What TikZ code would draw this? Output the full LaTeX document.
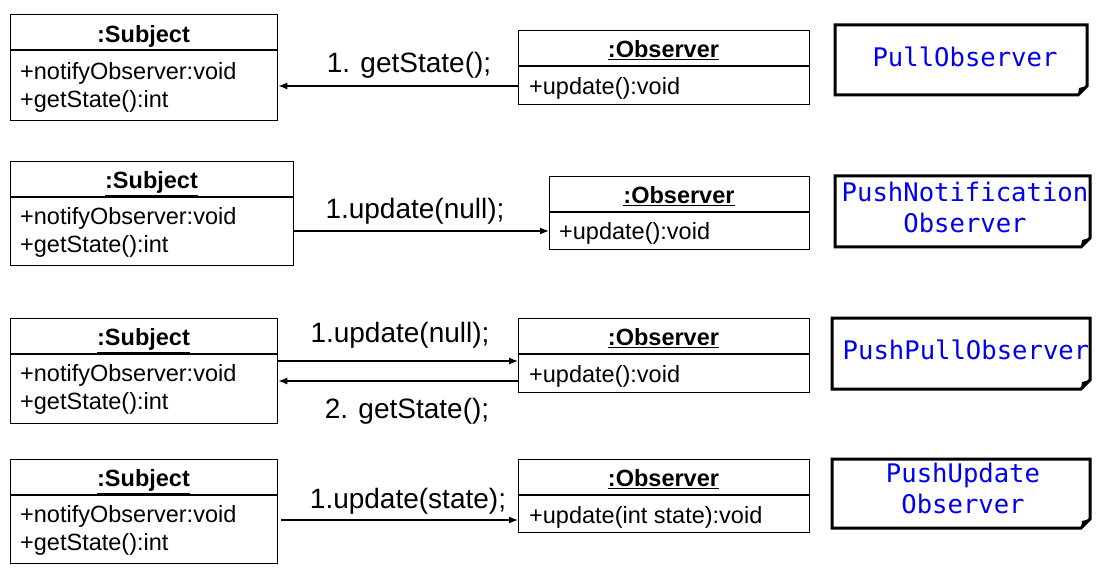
\documentclass[tikz,border=0pt]{standalone}
\usepackage{fontspec}
\setmainfont{Liberation Sans}
\newfontfamily\monof{DejaVu Sans Mono}
\usetikzlibrary{arrows.meta}
\definecolor{noteblue}{RGB}{0,0,240}
\newcommand\notebox[4]{%
  \draw[line width=3pt, line join=miter] (#1,#2) -- (#3,#2) -- (#3,#4-9) -- (#3-9,#4) -- (#1,#4) -- cycle;
  \fill (#3,#4-9) -- (#3-9,#4) -- (#3-8,#4-7) -- cycle;
}
\begin{document}
\begin{tikzpicture}[x=1pt,y=-1pt,
  umlbox/.style={draw, line width=1.3pt, anchor=north west, inner sep=0pt},
  divline/.style={line width=1.3pt},
  ttl/.style={font=\fontsize{23.5}{28}\selectfont\bfseries, text height=17pt, text depth=0pt, inner sep=0pt},
  attr/.style={font=\fontsize{23.5}{28}\selectfont, anchor=west, text height=17pt, text depth=0pt, inner sep=0pt},
  lbl/.style={font=\fontsize{28}{32}\selectfont, text height=20pt, text depth=0pt, inner sep=0pt},
  msg/.style={line width=1.3pt, -{Latex[length=9pt,width=7pt]}},
  notetxt/.style={font=\fontsize{25.6}{31}\selectfont\monof, text=noteblue, align=center, inner sep=0pt}
]
\useasboundingbox (0,0) rectangle (1101,572);

% ---------- Row 1 : Pull ----------
\node[umlbox, minimum width=267pt, minimum height=106pt] (s1) at (10,14) {};
\draw[divline] (s1.west |- 0,50) -- (s1.east |- 0,50);
\node[ttl] (s1t) at (143.5,34) {\underline{:Subject}};
\node[attr] (s1a) at (20,71) {+notifyObserver:void};
\node[attr] (s1b) at (20,99) {+getState():int};

\node[umlbox, minimum width=291pt, minimum height=74pt] (o1) at (518,30) {};
\draw[divline] (o1.west |- 0,66) -- (o1.east |- 0,66);
\node[ttl] (o1t) at (663.5,49) {\underline{:Observer}};
\node[attr] (o1a) at (529,86) {+update():void};

\draw[msg] (o1.west |- 0,86) -- (s1.east |- 0,86);
\node[lbl] (l1) at (409,63) {1. getState();};

\notebox{835}{25}{1087}{95}
\node[notetxt] (n1) at (965,57) {PullObserver};

% ---------- Row 2 : PushNotification ----------
\node[umlbox, minimum width=283pt, minimum height=104pt] (s2) at (10,161) {};
\draw[divline] (s2.west |- 0,197) -- (s2.east |- 0,197);
\node[ttl] (s2t) at (151.5,180) {\underline{:Subject}};
\node[attr] (s2a) at (20,216) {+notifyObserver:void};
\node[attr] (s2b) at (20,244) {+getState():int};

\node[umlbox, minimum width=260pt, minimum height=73pt] (o2) at (549,176) {};
\draw[divline] (o2.west |- 0,212) -- (o2.east |- 0,212);
\node[ttl] (o2t) at (679,195) {\underline{:Observer}};
\node[attr] (o2a) at (559,231) {+update():void};

\draw[msg] (s2.east |- 0,231) -- (o2.west |- 0,231);
\node[lbl] (l2) at (415,209) {1.update(null);};

\notebox{835}{176}{1090}{247}
\node[notetxt] (n2) at (965,207) {PushNotification\\Observer};

% ---------- Row 3 : PushPull ----------
\node[umlbox, minimum width=267pt, minimum height=105pt] (s3) at (10,318) {};
\draw[divline] (s3.west |- 0,354) -- (s3.east |- 0,354);
\node[ttl] (s3t) at (143.5,337) {\underline{:Subject}};
\node[attr] (s3a) at (20,373) {+notifyObserver:void};
\node[attr] (s3b) at (20,401) {+getState():int};

\node[umlbox, minimum width=291pt, minimum height=74pt] (o3) at (518,318) {};
\draw[divline] (o3.west |- 0,354) -- (o3.east |- 0,354);
\node[ttl] (o3t) at (663.5,337) {\underline{:Observer}};
\node[attr] (o3a) at (529,374) {+update():void};

\draw[msg] (s3.east |- 0,361) -- (o3.west |- 0,361);
\draw[msg] (o3.west |- 0,381) -- (s3.east |- 0,381);
\node[lbl] (l3a) at (400,332) {1.update(null);};
\node[lbl] (l3b) at (407,408) {2. getState();};

\notebox{832}{318}{1090}{389}
\node[notetxt] (n3) at (966,350) {PushPullObserver};

% ---------- Row 4 : PushUpdate ----------
\node[umlbox, minimum width=267pt, minimum height=104pt] (s4) at (10,459) {};
\draw[divline] (s4.west |- 0,495) -- (s4.east |- 0,495);
\node[ttl] (s4t) at (143.5,478) {\underline{:Subject}};
\node[attr] (s4a) at (20,514) {+notifyObserver:void};
\node[attr] (s4b) at (20,542) {+getState():int};

\node[umlbox, minimum width=291pt, minimum height=73pt] (o4) at (518,459) {};
\draw[divline] (o4.west |- 0,495) -- (o4.east |- 0,495);
\node[ttl] (o4t) at (663.5,478) {\underline{:Observer}};
\node[attr] (o4a) at (529,515) {+update(int state):void};

\draw[msg] (s4.east |- 0,520) ++(3,0) coordinate (s4o) -- (o4.west |- 0,520);
\node[lbl] (l4) at (408,498) {1.update(state);};

\notebox{832}{459}{1090}{528}
\node[notetxt] (n4) at (963,488) {PushUpdate\\Observer};

\end{tikzpicture}
\end{document}
